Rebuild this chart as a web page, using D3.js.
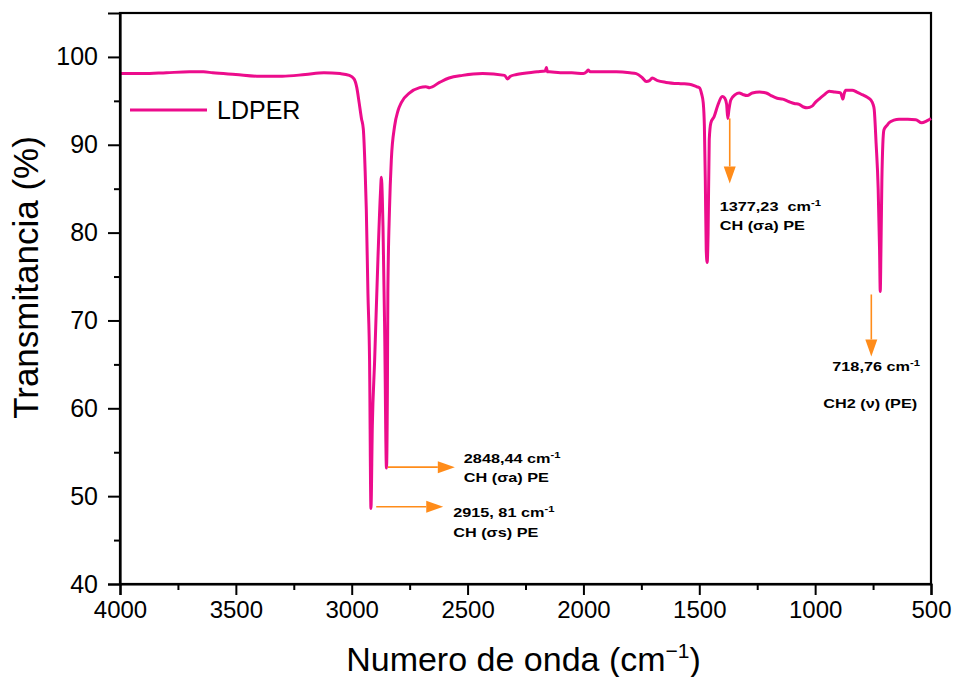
<!DOCTYPE html>
<html>
<head>
<meta charset="utf-8">
<script src="https://cdn.jsdelivr.net/npm/d3@7"></script>
<style>
  html, body { margin: 0; padding: 0; background: #fff; }
  svg { display: block; font-family: "Liberation Sans", Arial, sans-serif; }
</style>
</head>
<body>
<svg id="chart" width="959" height="677"></svg>
<script>
// FTIR spectrum of LDPER: wavenumber (cm-1) and transmittance (%)
const wavenumber = [
  4000, 3900, 3800, 3700, 3640, 3600, 3500, 3400, 3300, 3200, 3120, 3050, 3010, 2990,
  2978, 2968, 2958, 2950, 2942, 2937, 2930, 2923, 2917, 2911, 2901, 2887, 2876, 2872,
  2868, 2865, 2858, 2850, 2846, 2844, 2837, 2829, 2815, 2800, 2786, 2750, 2707, 2680,
  2664, 2621, 2580, 2522, 2435, 2340, 2328, 2315, 2289, 2200, 2165, 2160, 2155, 2147,
  2100, 2050, 2000, 1987, 1980, 1970, 1900, 1858, 1800, 1772, 1745, 1729, 1715, 1703,
  1680, 1643, 1580, 1543, 1510, 1500, 1490, 1483, 1478, 1474, 1470, 1466, 1462, 1457,
  1450, 1436, 1420, 1401, 1390, 1382, 1377, 1372, 1364, 1345, 1328, 1310, 1293, 1271,
  1240, 1211, 1190, 1164, 1140, 1112, 1090, 1069, 1050, 1035, 1013, 1000, 983, 960,
  940, 915, 890, 880, 875, 868, 840, 820, 797, 775, 760, 750, 745, 737,
  728, 722, 719, 716, 712, 708, 703, 690, 681, 660, 638, 600, 566, 540,
  520, 509, 500
];
const transmittance = [
  98.1, 98.1, 98.2, 98.3, 98.3, 98.2, 98.0, 97.8, 97.8, 98.0, 98.2, 98.1, 97.9, 97.5,
  96.5, 94.8, 93.0, 91.8, 87.0, 82.6, 73.1, 65.5, 48.6, 58.0, 65.5, 76.9, 84.5, 86.3,
  84.0, 80.7, 69.3, 53.2, 62.0, 73.1, 82.6, 88.3, 92.1, 93.9, 94.8, 95.9, 96.5, 96.6,
  96.5, 97.1, 97.6, 97.9, 98.1, 97.9, 97.5, 97.8, 98.0, 98.3, 98.4, 98.8, 98.3, 98.3,
  98.2, 98.2, 98.1, 98.3, 98.5, 98.3, 98.3, 98.3, 98.2, 98.1, 97.6, 97.2, 97.3, 97.6,
  97.3, 97.1, 96.95, 96.9, 96.6, 96.5, 95.8, 94.8, 92.1, 86.0, 78.0, 76.6, 80.0, 90.6,
  92.5, 93.2, 94.5, 95.5, 95.3, 94.6, 93.0, 94.0, 95.1, 95.7, 95.9, 95.7, 95.6, 95.9,
  96.0, 95.9, 95.6, 95.3, 95.2, 94.9, 94.7, 94.6, 94.3, 94.2, 94.4, 94.8, 95.2, 95.7,
  96.1, 96.0, 95.9, 95.2, 95.8, 96.2, 96.2, 96.0, 95.7, 95.4, 95.1, 94.6, 94.0, 90.2,
  85.0, 78.0, 73.3, 78.0, 86.0, 90.0, 91.7, 92.2, 92.5, 92.8, 92.9, 92.9, 92.85, 92.5,
  92.7, 92.85, 93.0
];

const seriesName = "LDPER";
const xTicks = [4000, 3500, 3000, 2500, 2000, 1500, 1000, 500];
const xMinorTicks = [3750, 3250, 2750, 2250, 1750, 1250, 750];
const yTicks = [40, 50, 60, 70, 80, 90, 100];
const yMinorTicks = [45, 55, 65, 75, 85, 95];

// Band assignments: position, transmittance at the band, labels
const bandWavenumber = [2915.81, 2848.44, 1377.23, 718.76];
const bandValue = [48.8, 53.3, 93.0, 73.3];
const bandNumber = ["2915, 81", "2848,44", "1377,23\u00A0", "718,76"];
const bandAssignment = ["CH (\u03C3s) PE", "CH (\u03C3a) PE", "CH (\u03C3a) PE", "CH2 (\u03BD) (PE)"];

const lineColor = "#ec0c8c";
const arrowColor = "#ff8c1a";

const svg = d3.select("#chart");
const plot = { left: 120, right: 931, top: 13, bottom: 584 };

const x = d3.scaleLinear().domain([4000, 500]).range([plot.left, plot.right]);
const y = d3.scaleLinear().domain([40, 105]).range([plot.bottom, plot.top]);

const data = wavenumber.map((w, i) => ({ w, t: transmittance[i] }));

// frame
svg.append("rect")
  .attr("x", plot.left).attr("y", plot.top)
  .attr("width", plot.right - plot.left).attr("height", plot.bottom - plot.top)
  .attr("fill", "none").attr("stroke", "#000").attr("stroke-width", 2.2);

// spectrum
const line = d3.line()
  .x(d => x(d.w))
  .y(d => y(d.t))
  .curve(d3.curveMonotoneX);

svg.append("path")
  .datum(data)
  .attr("d", line)
  .attr("fill", "none")
  .attr("stroke", lineColor)
  .attr("stroke-width", 3)
  .attr("stroke-linejoin", "round");

// axes
const xAxis = svg.append("g")
  .attr("transform", `translate(0,${plot.bottom})`)
  .call(d3.axisBottom(x).tickValues(xTicks).tickSize(11).tickPadding(6).tickFormat(d3.format("d")));
svg.append("g")
  .attr("transform", `translate(0,${plot.bottom})`)
  .call(d3.axisBottom(x).tickValues(xMinorTicks).tickSize(6).tickFormat(""))
  .call(g => g.select(".domain").remove());

const yAxis = svg.append("g")
  .attr("transform", `translate(${plot.left},0)`)
  .call(d3.axisLeft(y).tickValues(yTicks).tickSize(12).tickPadding(10));
svg.append("g")
  .attr("transform", `translate(${plot.left},0)`)
  .call(d3.axisLeft(y).tickValues(yMinorTicks).tickSize(6).tickFormat(""))
  .call(g => g.select(".domain").remove());

svg.selectAll(".domain").attr("stroke-width", 2.2);
svg.selectAll(".tick line").attr("stroke-width", 2);
xAxis.selectAll(".tick text")
  .attr("font-size", 24)
  .attr("fill", "#000");
yAxis.selectAll(".tick text")
  .attr("font-size", 25)
  .attr("fill", "#000");

// axis titles
svg.append("text")
  .attr("transform", `translate(38,${(plot.top + plot.bottom) / 2 - 21}) rotate(-90)`)
  .attr("text-anchor", "middle")
  .attr("font-size", 35)
  .text("Transmitancia (%)");

const xt = svg.append("text")
  .attr("x", (plot.left + plot.right) / 2 - 2)
  .attr("y", 671)
  .attr("text-anchor", "middle")
  .attr("font-size", 34);
xt.append("tspan").text("Numero de onda (cm");
xt.append("tspan").attr("dy", -13).attr("font-size", 21).text("\u22121");
xt.append("tspan").attr("dy", 13).text(")");

// legend
const legend = svg.append("g");
legend.append("line")
  .attr("x1", 130).attr("x2", 207).attr("y1", 110).attr("y2", 110)
  .attr("stroke", lineColor).attr("stroke-width", 3);
legend.append("text")
  .attr("x", 217).attr("y", 119)
  .attr("font-size", 25)
  .text(seriesName);

// band annotations
function arrow(x1, y1, x2, y2) {
  const ang = Math.atan2(y2 - y1, x2 - x1);
  const head = 17, half = 6;
  const bx = x2 - head * Math.cos(ang), by = y2 - head * Math.sin(ang);
  svg.append("line")
    .attr("x1", x1).attr("y1", y1).attr("x2", bx).attr("y2", by)
    .attr("stroke", arrowColor).attr("stroke-width", 1.6);
  svg.append("path")
    .attr("d", `M${x2},${y2}L${bx - half * Math.sin(ang)},${by + half * Math.cos(ang)}L${bx + half * Math.sin(ang)},${by - half * Math.cos(ang)}Z`)
    .attr("fill", arrowColor);
}

function bandLabel(x0, y0, number, assignment, gap, dx2, sx) {
  const t1 = svg.append("text")
    .attr("transform", `translate(${x0},${y0}) scale(${sx},1)`)
    .attr("font-size", 13).attr("font-weight", "bold");
  t1.append("tspan").text(number + " cm");
  t1.append("tspan").attr("dy", -5).attr("font-size", 9).text("-1");
  svg.append("text")
    .attr("transform", `translate(${x0 + dx2},${y0 + gap}) scale(${sx},1)`)
    .attr("font-size", 13).attr("font-weight", "bold")
    .text(assignment);
}

// 2915 band: horizontal arrow from the minimum
{
  const px = x(bandWavenumber[0]) + 5, py = y(bandValue[0]);
  arrow(px, py, px + 67, py);
  bandLabel(px + 77, py + 10, bandNumber[0], bandAssignment[0], 20, 0, 1.25);
}
// 2848 band
{
  const px = x(bandWavenumber[1]) + 1, py = y(bandValue[1]);
  arrow(px, py, px + 67, py);
  bandLabel(px + 76, py - 4, bandNumber[1], bandAssignment[1], 19, 0, 1.25);
}
// 1377 band: vertical arrow down from the dip
{
  const px = x(bandWavenumber[2]) + 2, py = y(bandValue[2]);
  arrow(px, py, px, py + 65);
  bandLabel(px - 10, py + 93, bandNumber[2], bandAssignment[2], 19, 0, 1.25);
}
// 718 band
{
  const px = x(bandWavenumber[3]) - 9, py = y(bandValue[3]) + 3;
  arrow(px, py, px, py + 62);
  bandLabel(px - 39, py + 77, bandNumber[3], bandAssignment[3], 37, -9, 1.25);
}
</script>
</body>
</html>
